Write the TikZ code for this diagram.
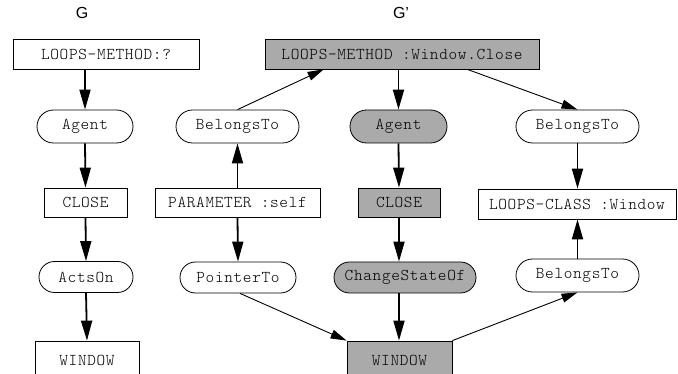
\documentclass[tikz,border=0pt]{standalone}
\usepackage{fontspec}
\setmainfont{Liberation Sans}
\setmonofont[LetterSpace=4]{Latin Modern Mono Light}
\usetikzlibrary{shapes.misc,arrows.meta,calc}
\definecolor{boxgray}{RGB}{170,170,170}
\begin{document}
\begin{tikzpicture}[x=1pt,y=-1pt,
  every node/.style={font=\fontsize{16.5}{19}\selectfont\ttfamily, inner sep=0pt, line width=0.8pt},
  rbox/.style={draw, rectangle, minimum height=30pt},
  rnd/.style={draw, rounded rectangle, minimum height=33pt},
  grayfill/.style={fill=boxgray},
  thickarr/.style={line width=1.8pt, -{Triangle[length=20pt,width=11pt]}},
  thinarr/.style={line width=0.9pt, -{Triangle[length=16pt,width=9pt]}},
  lbl/.style={font=\rmfamily\fontsize{16}{18}\selectfont}
]
\useasboundingbox (0,0) rectangle (678,374);
\clip (0,0) rectangle (678,374);

% titles
\node[lbl] (g)  at (82,13) {G};
\node[lbl] (gp) at (401,13) {G’};

% left graph G
\node[rbox, minimum width=186pt] (lm1) at (106,54) {LOOPS-METHOD:?};
\node[rnd, minimum width=96pt] (ag1) at (85,126.5) {Agent};
\node[rbox, minimum width=83pt, minimum height=29pt] (cl1) at (85.5,202.5) {CLOSE};
\node[rnd, minimum width=94pt, minimum height=31pt] (ao1) at (86,277) {ActsOn};
\node[rbox, minimum width=104pt, minimum height=38pt] (wi1) at (87,360) {WINDOW};

\draw[thickarr] (lm1.south -| ag1.north) -- (ag1.north);
\draw[thickarr] (ag1.south) -- (cl1.north);
\draw[thickarr] (cl1.south) -- (ao1.north);
\draw[thickarr] (ao1.south) -- (wi1.north);

% right graph G'
\node[rbox, grayfill, minimum width=274pt] (lm2) at (402,54) {LOOPS-METHOD :Window.Close};
\node[rnd, grayfill, minimum width=97pt] (ag2) at (398.5,126.5) {Agent};
\node[rbox, grayfill, minimum width=82pt, minimum height=29pt] (cl2) at (399,202.5) {CLOSE};
\node[rnd, grayfill, minimum width=142pt, minimum height=31pt] (cs) at (405,277.5) {ChangeStateOf};
\node[rbox, grayfill, minimum width=105pt, minimum height=38pt] (wi2) at (399.5,360) {WINDOW};

\node[rnd, minimum width=123pt] (be1) at (237.5,126.5) {BelongsTo};
\node[rbox, minimum width=165pt, minimum height=29pt] (pa) at (237.5,202.5) {PARAMETER :self};
\node[rnd, minimum width=116pt, minimum height=31pt] (pt) at (238,277.5) {PointerTo};

\node[rnd, minimum width=123pt] (be2) at (577.5,126.5) {BelongsTo};
\node[rbox, minimum width=198pt] (lc) at (577,204) {LOOPS-CLASS :Window};
\node[rnd, minimum width=123pt] (be3) at (577.5,275.5) {BelongsTo};

\draw[thickarr] (lm2.south -| ag2.north) -- (ag2.north);
\draw[thickarr] (ag2.south) -- (cl2.north);
\draw[thickarr] (cl2.south) -- (cl2.south |- cs.north);
\draw[thickarr] (cl2.south |- cs.south) -- (cl2.south |- wi2.north);

\draw[thinarr] (be1.north) -- ([xshift=59pt]lm2.south west);
\draw[thickarr] (pa.north) -- (be1.south);
\draw[thickarr] (pa.south) -- (pt.north);
\draw[thinarr] ([xshift=2pt]pt.south) -- (wi2.north west);

\draw[thinarr] ([xshift=-72pt]lm2.south east) -- (be2.north);
\draw[thickarr] (be2.south) -- (be2.south |- lc.north);
\draw[thickarr] (be3.north) -- (be3.north |- lc.south);
\draw[thinarr] (wi2.north east) -- (be3.south);
\end{tikzpicture}
\end{document}
